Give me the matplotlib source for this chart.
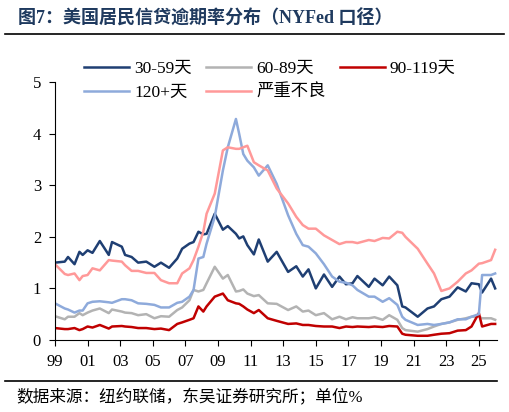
import matplotlib
matplotlib.use("Agg")
import matplotlib.pyplot as plt

plt.rcParams["font.family"] = ["Liberation Serif", "Noto Sans CJK SC"]

years = [1999.0, 1999.6, 1999.8, 2000.2, 2000.5, 2000.7, 2001.0, 2001.3, 2001.75, 2002.3,
         2002.5, 2003.1, 2003.3, 2003.7, 2004.1, 2004.6, 2005.1, 2005.5, 2006.0, 2006.5,
         2006.8, 2007.25, 2007.5, 2007.8, 2008.1, 2008.3, 2008.8, 2009.3, 2009.6, 2010.1,
         2010.3, 2010.55, 2010.8, 2011.2, 2011.5, 2012.05, 2012.6, 2013.3, 2013.8, 2014.2,
         2014.55, 2015.0, 2015.5, 2016.0, 2016.45, 2016.85, 2017.25, 2017.55, 2018.25, 2018.6,
         2019.1, 2019.5, 2020.0, 2020.3, 2020.5, 2021.25, 2021.85, 2022.25, 2022.7, 2023.2,
         2023.7, 2024.2, 2024.55, 2025.0, 2025.2, 2025.75, 2026.0]

d30_59 = [1.50, 1.52, 1.61, 1.47, 1.71, 1.65, 1.74, 1.69, 1.92, 1.65, 1.90, 1.81, 1.65, 1.61,
          1.50, 1.52, 1.42, 1.50, 1.40, 1.58, 1.77, 1.87, 1.90, 2.10, 2.05, 2.06, 2.45, 2.14,
          2.21, 2.06, 1.97, 2.01, 1.84, 1.66, 1.95, 1.52, 1.71, 1.32, 1.43, 1.23, 1.37, 1.00,
          1.27, 1.03, 1.23, 1.08, 1.10, 1.24, 1.03, 1.19, 1.06, 1.23, 1.06, 0.65, 0.63, 0.45,
          0.61, 0.65, 0.79, 0.84, 1.02, 0.94, 1.10, 1.08, 0.92, 1.19, 1.00]
d60_89 = [0.46, 0.40, 0.45, 0.45, 0.52, 0.48, 0.53, 0.57, 0.61, 0.52, 0.59, 0.55, 0.53, 0.52,
          0.48, 0.50, 0.42, 0.46, 0.45, 0.58, 0.63, 0.77, 0.97, 0.94, 0.97, 1.10, 1.42, 1.19,
          1.26, 0.94, 0.95, 0.98, 0.90, 0.85, 0.87, 0.71, 0.70, 0.58, 0.65, 0.55, 0.57, 0.48,
          0.52, 0.40, 0.45, 0.40, 0.44, 0.42, 0.42, 0.44, 0.39, 0.48, 0.39, 0.23, 0.19, 0.16,
          0.21, 0.26, 0.31, 0.34, 0.39, 0.42, 0.45, 0.45, 0.42, 0.42, 0.39]
d90_119 = [0.23, 0.21, 0.21, 0.23, 0.19, 0.21, 0.26, 0.24, 0.29, 0.22, 0.26, 0.27, 0.26, 0.25,
           0.23, 0.23, 0.21, 0.22, 0.19, 0.31, 0.34, 0.39, 0.42, 0.65, 0.55, 0.65, 0.84, 0.90,
           0.77, 0.71, 0.70, 0.65, 0.59, 0.52, 0.58, 0.42, 0.37, 0.31, 0.32, 0.29, 0.29, 0.27,
           0.26, 0.26, 0.23, 0.26, 0.25, 0.26, 0.25, 0.26, 0.25, 0.27, 0.26, 0.12, 0.10, 0.08,
           0.08, 0.10, 0.12, 0.13, 0.18, 0.19, 0.26, 0.52, 0.26, 0.31, 0.31]
d120 = [0.71, 0.61, 0.59, 0.53, 0.57, 0.57, 0.71, 0.74, 0.75, 0.73, 0.72, 0.79, 0.79, 0.77,
        0.71, 0.70, 0.68, 0.63, 0.63, 0.72, 0.74, 0.84, 0.97, 1.58, 1.61, 1.87, 2.39, 3.29,
        3.74, 4.29, 4.00, 3.61, 3.48, 3.35, 3.19, 3.39, 3.03, 2.42, 2.06, 1.84, 1.81, 1.68,
        1.47, 1.23, 1.13, 1.11, 1.06, 0.97, 0.84, 0.84, 0.74, 0.81, 0.68, 0.45, 0.39, 0.29,
        0.31, 0.29, 0.31, 0.34, 0.40, 0.40, 0.45, 0.50, 1.26, 1.26, 1.29]
serious = [1.47, 1.28, 1.26, 1.29, 1.16, 1.24, 1.26, 1.39, 1.35, 1.55, 1.54, 1.52, 1.45, 1.34,
           1.34, 1.30, 1.30, 1.16, 1.10, 1.10, 1.29, 1.39, 1.55, 1.81, 2.10, 2.45, 2.84, 3.68,
           3.74, 3.71, 3.71, 3.74, 3.77, 3.45, 3.39, 3.29, 2.94, 2.65, 2.39, 2.23, 2.16, 2.16,
           2.03, 1.94, 1.86, 1.90, 1.90, 1.88, 1.94, 1.92, 1.98, 1.97, 2.10, 2.08, 2.00, 1.77,
           1.48, 1.29, 0.95, 1.00, 1.13, 1.29, 1.35, 1.48, 1.49, 1.55, 1.75]

tick_years = list(range(1999, 2026, 2))
tick_labels = [f"{y % 100:02d}" for y in tick_years]

fig = plt.figure(figsize=(5.09, 4.12), dpi=100)
ax = fig.add_axes([0.108, 0.175, 0.868, 0.625])

h1, = ax.plot(years, d30_59, color="#1f3f73", lw=1.8, label="30-59天")
h2, = ax.plot(years, d60_89, color="#b3b3b3", lw=1.8, label="60-89天")
h3, = ax.plot(years, d90_119, color="#c00000", lw=1.8, label="90-119天")
h4, = ax.plot(years, d120, color="#8eaadb", lw=1.8, label="120+天")
h5, = ax.plot(years, serious, color="#ff9999", lw=1.8, label="严重不良")

ax.set_xlim(1999, 2026.1)
ax.set_ylim(0, 5)
ax.set_xticks(tick_years)
ax.set_xticklabels(tick_labels, fontsize=12)
ax.set_yticks(range(6))
ax.set_yticklabels([str(i) for i in range(6)], fontsize=12)
for s in ("top", "right"):
    ax.spines[s].set_visible(False)
ax.tick_params(direction="out", length=4, pad=6)

# column-major fill so rows read 30-59 / 60-89 / 90-119, then 120+ / 严重不良
ax.legend([h1, h4, h2, h5, h3], [h.get_label() for h in (h1, h4, h2, h5, h3)],
          loc="upper left", bbox_to_anchor=(0.05, 1.11), ncol=3, frameon=False,
          fontsize=12.5, handlelength=2.6, handletextpad=0.3, columnspacing=0.8,
          labelspacing=0.45, borderaxespad=0)

fig.text(0.035, 0.955, "图7：美国居民信贷逾期率分布（NYFed 口径）", fontsize=13,
         fontweight="bold", color="#1f3a5f", va="center")
fig.add_artist(plt.Line2D([0.01, 0.99], [0.917, 0.917], color="black", lw=1.2))
fig.add_artist(plt.Line2D([0.01, 0.977], [0.075, 0.075], color="black", lw=1.2))
fig.text(0.033, 0.035, "数据来源：纽约联储，东吴证券研究所；单位%", fontsize=12, va="center")

fig.savefig("out.png", dpi=100)
